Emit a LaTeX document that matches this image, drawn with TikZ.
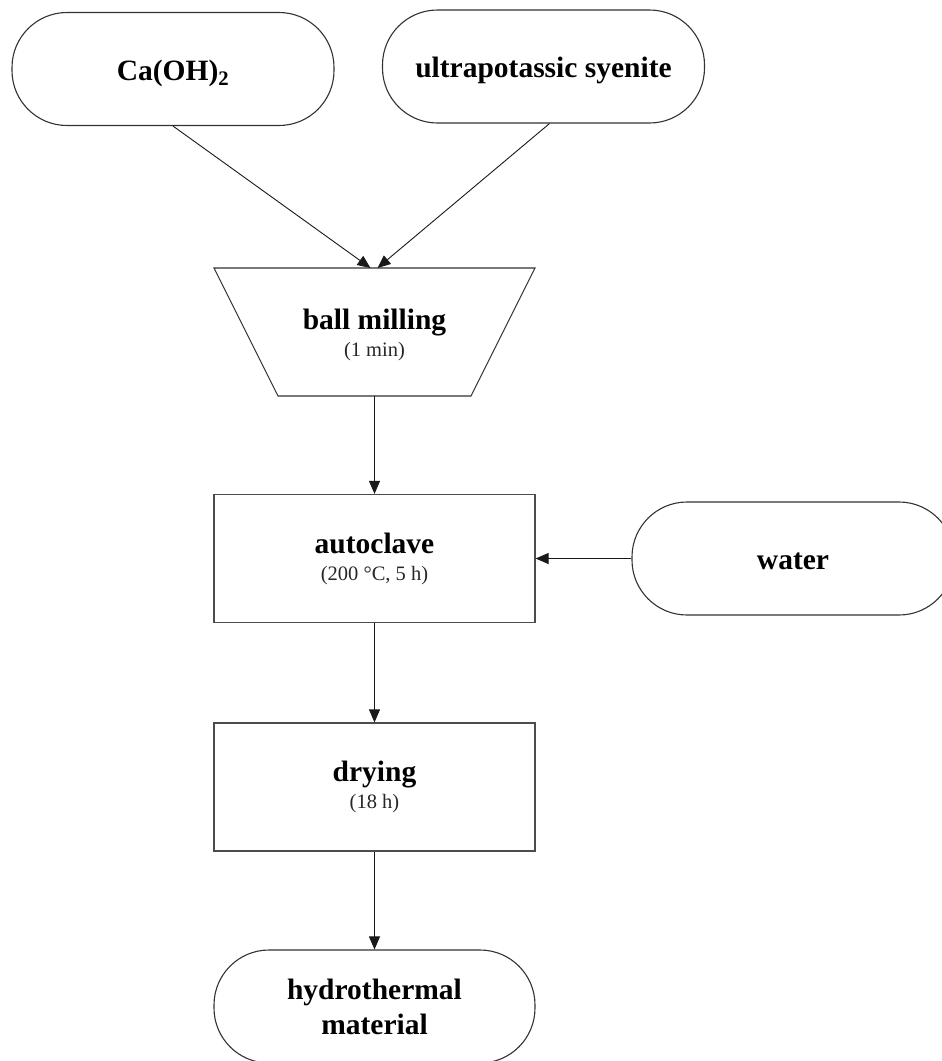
\documentclass[tikz,border=0pt]{standalone}
\usepackage{fontspec}
\setmainfont{Liberation Serif}
\usetikzlibrary{arrows.meta,calc}
\begin{document}
\begin{tikzpicture}[x=1pt,y=-1pt,
  bigfont/.style={font=\fontsize{29.5}{35}\selectfont\bfseries},
  term/.style={draw=black!80,line width=1.1pt,rounded corners=55pt,inner sep=0pt,
     minimum width=322pt,minimum height=113pt,align=center,bigfont},
  oneline/.style={text height=26pt,text depth=4pt},
  procbox/.style={draw=black!70,line width=1.2pt,inner sep=0pt,
     minimum width=321pt,minimum height=128pt,align=center,bigfont},
  conn/.style={draw=black!90,line width=0.9pt,-{Triangle[length=13pt,width=11pt]}}]
\useasboundingbox (0,0) rectangle (942,1061);
\clip (0,0) rectangle (942,1061);
\newcommand{\sublbl}[1]{{\fontsize{20.5}{24}\selectfont\mdseries\color{black!85}#1}}
% terminators
\node[term,oneline] (ca) at (173,69) {Ca(OH)\textsubscript{2}};
\node[term,oneline] (sy) at (543.5,66.5) {ultrapotassic syenite};
% ball milling trapezoid
\coordinate (bmtl) at (214,268);
\coordinate (bmtr) at (535,268);
\coordinate (bmbr) at (471,396);
\coordinate (bmbl) at (278,396);
\draw[draw=black!80,line width=1.1pt] (bmtl) -- (bmtr) -- (bmbr) -- (bmbl) -- cycle;
\coordinate (bmtop) at (374.5,268);
\coordinate (bmbot) at (374.5,396);
\node[align=center,bigfont,inner sep=0pt] (bm) at (374.5,335) {ball milling\\[-8pt]\sublbl{(1 min)}};
% autoclave
\node[procbox] (ac) at (374.5,558.5) {autoclave\\[-8pt]\sublbl{(200 °C, 5 h)}};
% water
\node[term,oneline] (wa) at (793,558.5) {water};
% drying
\node[procbox] (dr) at (374.5,787) {drying\\[-8pt]\sublbl{(18 h)}};
% hydrothermal material
\node[term,minimum width=321pt] (hy) at (374.5,1006.5) {hydrothermal\\material};
% connectors
\draw[conn] (ca.south) -- ($(bmtop)+(-4,0)$);
\draw[conn] ($(sy.south)+(6,0)$) -- ($(bmtop)+(3,0)$);
\draw[conn] (bmbot) -- (ac.north);
\draw[conn] (wa.west) -- (ac.east);
\draw[conn] (ac.south) -- (dr.north);
\draw[conn] (dr.south) -- (hy.north);
\end{tikzpicture}
\end{document}
